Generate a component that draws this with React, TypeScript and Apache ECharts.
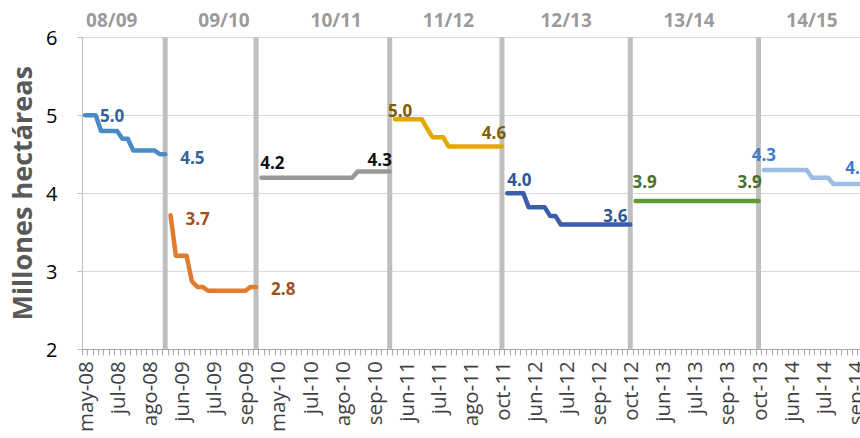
import React, { useEffect, useRef } from "react";
import * as echarts from "echarts";

// ---- data ----
const tickLabels = [
  "may-08", "jul-08", "ago-08", "jun-09", "jul-09", "sep-09", "may-10", "jul-10", "ago-10",
  "sep-10", "jun-11", "jul-11", "ago-11", "oct-11", "jun-12", "jul-12", "sep-12", "oct-12",
  "jun-13", "jul-13", "sep-13", "oct-13", "jun-14", "jul-14", "sep-14",
];
const categoryCount = 147;
const labelEvery = 6;

const seasons = ["08/09", "09/10", "10/11", "11/12", "12/13", "13/14", "14/15"];
const seasonStart = [0, 16, 33, 58, 79, 103, 127];
const seasonLabelAt = [5, 26, 47, 68, 90, 113, 136];
const separatorAt = [15, 32, 57, 78, 102, 126];
const separatorValue = 6;

const s0809 = [5.0, 5.0, 5.0, 4.8, 4.8, 4.8, 4.8, 4.7, 4.7, 4.55, 4.55, 4.55, 4.55, 4.55, 4.5, 4.5];
const s0910 = [3.72, 3.2, 3.2, 3.2, 2.87, 2.8, 2.8, 2.75, 2.75, 2.75, 2.75, 2.75, 2.75, 2.75, 2.75, 2.8, 2.8];
const s1011 = [
  4.2, 4.2, 4.2, 4.2, 4.2, 4.2, 4.2, 4.2, 4.2, 4.2, 4.2, 4.2, 4.2, 4.2, 4.2, 4.2, 4.2, 4.2,
  4.28, 4.28, 4.28, 4.28, 4.28, 4.28, 4.28,
];
const s1112 = [
  4.95, 4.95, 4.95, 4.95, 4.95, 4.95, 4.83, 4.72, 4.72, 4.72,
  4.6, 4.6, 4.6, 4.6, 4.6, 4.6, 4.6, 4.6, 4.6, 4.6, 4.6,
];
const s1213 = [
  4.0, 4.0, 4.0, 4.0, 3.82, 3.82, 3.82, 3.82, 3.71, 3.71,
  3.6, 3.6, 3.6, 3.6, 3.6, 3.6, 3.6, 3.6, 3.6, 3.6, 3.6, 3.6, 3.6, 3.6,
];
const s1314 = [
  3.9, 3.9, 3.9, 3.9, 3.9, 3.9, 3.9, 3.9, 3.9, 3.9, 3.9, 3.9,
  3.9, 3.9, 3.9, 3.9, 3.9, 3.9, 3.9, 3.9, 3.9, 3.9, 3.9, 3.9,
];
const s1415 = [
  4.3, 4.3, 4.3, 4.3, 4.3, 4.3, 4.3, 4.3, 4.3,
  4.2, 4.2, 4.2, 4.2,
  4.12, 4.12, 4.12, 4.12, 4.12, 4.12, 4.12,
];
const seasonValues = [s0809, s0910, s1011, s1112, s1213, s1314, s1415];

// ---- styles ----
const FONT = "Open Sans";
const lineColors = ["#4A8AC6", "#E07B30", "#999999", "#E6A800", "#3B5EAB", "#61993B", "#9DBDE3"];
const labelColors = ["#31659C", "#A0501E", "#111111", "#7F6000", "#2E5597", "#4A6F2A", "#3D7CC9"];
const firstLabel: any[] = [
  { position: "right", distance: 15, offset: [0, 0] },
  { position: "right", distance: 15, offset: [0, 3] },
  { position: "top", distance: 7, offset: [11, 0] },
  { position: "top", distance: 0, offset: [5, 0] },
  { position: "top", distance: 5, offset: [12, 0] },
  { position: "top", distance: 11, offset: [9, 0] },
  { position: "top", distance: 7, offset: [0, 0] },
];
const lastLabel: any[] = [
  { position: "right", distance: 15, offset: [0, 3] },
  { position: "right", distance: 15, offset: [0, 2] },
  { position: "top", distance: 3, offset: [-10, 0] },
  { position: "top", distance: 6, offset: [-8, 0] },
  { position: "top", distance: 1, offset: [-15, 0] },
  { position: "top", distance: 11, offset: [-9, 0] },
  { position: "top", distance: 8, offset: [-8, 0] },
];

const categories = Array.from({ length: categoryCount }, (_, i) =>
  i % labelEvery === 0 && i / labelEvery < tickLabels.length
    ? tickLabels[i / labelEvery]
    : `${tickLabels[Math.min(Math.floor(i / labelEvery), tickLabels.length - 1)]} (${i % labelEvery})`
);

export default function App() {
  const ref = useRef<HTMLDivElement>(null);
  useEffect(() => {
    if (!ref.current) return;
    const chart = echarts.init(ref.current, undefined, { renderer: "svg" });

    const separatorData = categories.map((_, i) => (separatorAt.includes(i) ? separatorValue : "-"));

    const lineSeries = seasonValues.map((vals, k) => {
      const data: any[] = categories.map(() => "-");
      vals.forEach((v, j) => {
        const idx = seasonStart[k] + j;
        const isFirst = j === 0;
        const isLast = j === vals.length - 1;
        data[idx] =
          isFirst || isLast
            ? { value: v, label: { show: true, ...(isFirst ? firstLabel[k] : lastLabel[k]) } }
            : v;
      });
      return {
        type: "line",
        name: seasons[k],
        data,
        z: 3,
        showSymbol: true,
        showAllSymbol: true,
        symbol: "circle",
        symbolSize: 0,
        lineStyle: { color: lineColors[k], width: 4.5, join: "round", cap: "round" },
        itemStyle: { color: lineColors[k] },
        label: {
          show: false,
          fontFamily: FONT,
          fontWeight: "bold",
          fontSize: 17,
          color: labelColors[k],
          formatter: (p: any) => Number(p.value).toFixed(1),
        },
      };
    });

    chart.setOption({
      animation: false,
      textStyle: { fontFamily: FONT },
      grid: { left: 81.7, right: 11.85, top: 37.3, bottom: 88.7, containLabel: false },
      xAxis: {
        type: "category",
        data: categories,
        boundaryGap: true,
        axisLine: { show: true, lineStyle: { color: "#a6a6a6", width: 1 } },
        axisTick: { show: true, interval: 0, length: 6, lineStyle: { color: "#a6a6a6" } },
        axisLabel: {
          interval: labelEvery - 1,
          rotate: 90,
          margin: 12,
          fontFamily: FONT,
          fontSize: 20.5,
          color: "#404040",
        },
        splitLine: { show: false },
      },
      yAxis: {
        type: "value",
        min: 2,
        max: 6,
        interval: 1,
        name: "Millones hectáreas",
        nameLocation: "middle",
        nameGap: 36,
        nameTextStyle: { fontFamily: FONT, fontSize: 27, fontWeight: "bold", color: "#595959" },
        axisLine: { show: true, lineStyle: { color: "#bfbfbf" } },
        axisTick: { show: true, length: 5, lineStyle: { color: "#bfbfbf" } },
        axisLabel: { fontFamily: FONT, fontSize: 20, color: "#000000", margin: 25 },
        splitLine: { show: true, lineStyle: { color: "#d9d9d9", width: 1 } },
      },
      series: [
        {
          type: "bar",
          name: "separador",
          data: separatorData,
          barWidth: 5,
          barGap: "-100%",
          z: 2,
          itemStyle: { color: "#bfbfbf" },
        },
        ...lineSeries,
        {
          type: "scatter",
          name: "temporadas",
          data: seasonLabelAt.map((x, k) => ({ value: [x, separatorValue], name: seasons[k] })),
          symbolSize: 0,
          clip: false,
          z: 4,
          label: {
            show: true,
            position: "top",
            distance: 8,
            formatter: "{b}",
            fontFamily: FONT,
            fontWeight: "bold",
            fontSize: 19,
            color: "#7f7f7f",
          },
        },
      ],
    });
    return () => chart.dispose();
  }, []);

  return (
    <div
      style={{
        position: "fixed",
        left: 0,
        top: 0,
        width: 860,
        height: 438,
        overflow: "hidden",
        background: "#ffffff",
      }}
    >
      <div ref={ref} style={{ width: 880, height: 438 }} />
    </div>
  );
}
